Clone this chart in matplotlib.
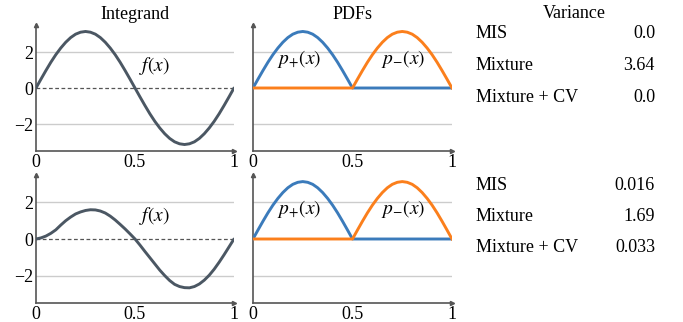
import matplotlib.pyplot as plt
import numpy as np

plt.rcParams['font.family'] = ['Liberation Serif', 'DejaVu Serif']
plt.rcParams['mathtext.fontset'] = 'stix'
plt.rcParams['font.size'] = 13

##### DATA
x = [i / 40 for i in range(41)]

# top row integrand
f_top = [0.0, 0.49, 0.97, 1.43, 1.85, 2.22, 2.54, 2.80, 2.99, 3.10, 3.14,
         3.10, 2.99, 2.80, 2.54, 2.22, 1.85, 1.43, 0.97, 0.49, 0.0,
         -0.49, -0.97, -1.43, -1.85, -2.22, -2.54, -2.80, -2.99, -3.10, -3.14,
         -3.10, -2.99, -2.80, -2.54, -2.22, -1.85, -1.43, -0.97, -0.49, 0.0]

# bottom row integrand
f_bot = [0.0, 0.06, 0.16, 0.31, 0.50, 0.76, 1.00, 1.20, 1.37, 1.48, 1.56,
         1.60, 1.59, 1.53, 1.42, 1.25, 1.04, 0.80, 0.55, 0.28, 0.0,
         -0.33, -0.68, -1.02, -1.36, -1.70, -2.00, -2.27, -2.48, -2.60, -2.66,
         -2.67, -2.60, -2.46, -2.25, -1.98, -1.65, -1.27, -0.86, -0.43, 0.0]

# pdfs (same in both rows)
p_plus = [0.0, 0.49, 0.97, 1.43, 1.85, 2.22, 2.54, 2.80, 2.99, 3.10, 3.14,
          3.10, 2.99, 2.80, 2.54, 2.22, 1.85, 1.43, 0.97, 0.49, 0.0,
          0.0, 0.0, 0.0, 0.0, 0.0, 0.0, 0.0, 0.0, 0.0, 0.0,
          0.0, 0.0, 0.0, 0.0, 0.0, 0.0, 0.0, 0.0, 0.0, 0.0]
p_minus = [0.0, 0.0, 0.0, 0.0, 0.0, 0.0, 0.0, 0.0, 0.0, 0.0,
           0.0, 0.0, 0.0, 0.0, 0.0, 0.0, 0.0, 0.0, 0.0, 0.0,
           0.0, 0.49, 0.97, 1.43, 1.85, 2.22, 2.54, 2.80, 2.99, 3.10, 3.14,
           3.10, 2.99, 2.80, 2.54, 2.22, 1.85, 1.43, 0.97, 0.49, 0.0]

methods = ['MIS', 'Mixture', 'Mixture + CV']
var_top = ['0.0', '3.64', '0.0']
var_bot = ['0.016', '1.69', '0.033']

CURVE = '#4b5763'
BLUE = '#3b7bbb'
ORANGE = '#fb7f1c'
SPINE = '#555555'
GRID = '#cccccc'

W, H = 683, 322
fig = plt.figure(figsize=(W / 100, H / 100), dpi=100)


def box(l, t, r, b):
    return [l / W, 1 - b / H, (r - l) / W, (b - t) / H]


def style(ax, ylabels=True):
    ax.set_xlim(0, 1)
    ax.set_ylim(-3.5, 3.5)
    for s in ['top', 'right']:
        ax.spines[s].set_visible(False)
    for s in ['left', 'bottom']:
        ax.spines[s].set_color(SPINE)
        ax.spines[s].set_linewidth(1.2)
    ax.set_xticks([0, 0.5, 1])
    ax.set_xticklabels(['0', '0.5', '1'])
    ax.set_yticks([-2, 0, 2])
    ax.set_yticklabels(['\u22122', '0', '2'] if ylabels else [])
    ax.tick_params(length=0, pad=2)
    ax.axhline(2, color=GRID, lw=1, zorder=0)
    ax.axhline(-2, color=GRID, lw=1, zorder=0)
    ax.plot(0, 1, '^', color=SPINE, ms=3, transform=ax.transAxes, clip_on=False)
    ax.plot(1, 0, '>', color=SPINE, ms=3, transform=ax.transAxes, clip_on=False)


rows = [(25, 151, f_top, var_top, 34), (175, 303, f_bot, var_bot, 185)]
for r, (top, bot, f, var, ty) in enumerate(rows):
    ax1 = fig.add_axes(box(36, top, 234, bot))
    style(ax1)
    ax1.axhline(0, color=SPINE, lw=0.9, ls=(0, (3, 2)), zorder=1)
    ax1.plot(x, f, color=CURVE, lw=2.1, zorder=3, solid_capstyle='round')
    ax1.text(0.6, 1.25, '$f(x)$', ha='center', va='center', fontsize=14)

    ax2 = fig.add_axes(box(253, top, 452, bot))
    style(ax2, ylabels=False)
    ax2.plot(x, p_plus, color=BLUE, lw=2.1, zorder=3)
    ax2.plot(x, p_minus, color=ORANGE, lw=2.1, zorder=3)
    ax2.text(0.23, 1.62, '$p_{+}(x)$', ha='center', va='center', fontsize=14)
    ax2.text(0.755, 1.62, '$p_{-}(x)$', ha='center', va='center', fontsize=14)

    if r == 0:
        ax1.set_title('Integrand', fontsize=13, pad=4)
        ax2.set_title('PDFs', fontsize=13, pad=4)
        fig.text(574 / W, 1 - 13 / H, 'Variance', ha='center', va='center')

    for i, (m, v) in enumerate(zip(methods, var)):
        yy = 1 - (ty + 31.5 * i) / H
        fig.text(476 / W, yy, m, ha='left', va='center')
        fig.text(655 / W, yy, v, ha='right', va='center')

fig.savefig('out.png', dpi=100)
